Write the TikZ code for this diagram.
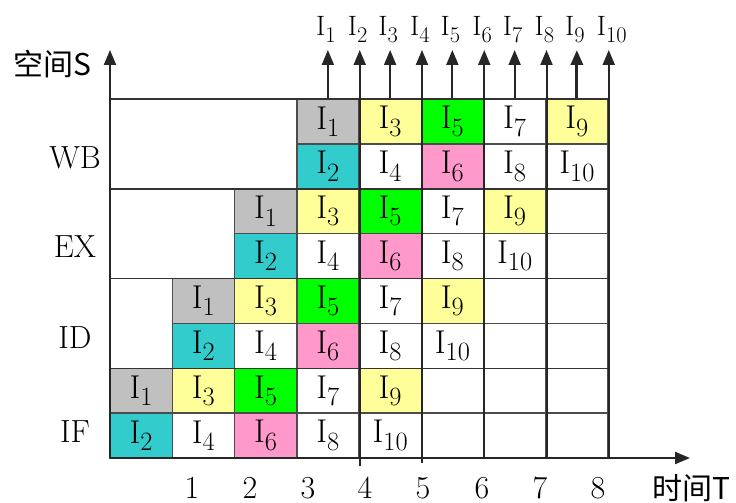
\documentclass[tikz,border=0pt]{standalone}
\usepackage{fontspec}
\newfontfamily\cjk{Noto Sans CJK SC}
\usetikzlibrary{arrows.meta, positioning}

\definecolor{insgray}{HTML}{C0C0C0}
\definecolor{inscyan}{HTML}{33CCCC}
\definecolor{insyellow}{HTML}{FFFF99}
\definecolor{insgreen}{HTML}{00FF00}
\definecolor{inspink}{HTML}{FF99CC}

% instruction label I with a large lowered index
\newcommand{\ins}[1]{I\raisebox{-.22em}{\scalebox{.8}{#1}}}
\def\cw{62.25}
\def\rh{44.875}

\begin{document}
\begin{tikzpicture}[x=1pt, y=-1pt,
        every node/.style={font=\fontsize{32}{32}\selectfont, inner sep=0pt},
        cell/.style={rectangle, draw=black!70, line width=1.5pt, fill=white, minimum width=\cw pt, minimum height=\rh pt, font=\fontsize{33}{33}\selectfont},
        gridline/.style={draw=black!80, line width=1.5pt},
        arrow/.style={-{Triangle[width=12pt,length=15pt]}, line width=2pt, black!85},
        toplabel/.style={font=\fontsize{28}{28}\selectfont, anchor=base west}
    ]
    \useasboundingbox (0,0) rectangle (736,503);
%
    % Pipeline cells
    \foreach \st [count=\b from 0] in {IF,ID,EX,WB} {
        \foreach \k/\col in {1/insgray,2/inscyan,3/insyellow,4/white,5/insgreen,6/inspink,7/white,8/white,9/insyellow,10/white} {
            \pgfmathsetmacro{\cx}{110+\cw*(\b+floor((\k-1)/2)+0.5)}
            \pgfmathsetmacro{\cy}{99+\rh*(2*(3-\b)+1-mod(\k,2)+0.5)}
            \node[cell, fill=\col] (\st-\k) at (\cx,\cy) {\ins{\k}};
        }
    }
    % Empty cells
    \foreach \b in {0,1,2} {
        \pgfmathtruncatemacro{\cs}{\b+5}
        \foreach \c in {\cs,...,7} {
            \foreach \r in {0,1} {
                \node[cell] (e-\b-\c-\r) at ({110+\cw*(\c+0.5)},{99+\rh*(2*(3-\b)+\r+0.5)}) {};
            }
        }
    }
%
    % Band lines
    \foreach \y in {0,2,4,6}
        \draw[gridline] (110,{99+\rh*\y}) -- (608,{99+\rh*\y});
%
    % Axes
    \coordinate (o) at (110,458);
    \coordinate (ytip) at (110,50);
    \coordinate (xtip) at (690,458);
    \draw[arrow] (o) -- (ytip);
    \draw[arrow] (o) -- (xtip);
    \node[font=\cjk\fontsize{30}{30}\selectfont] (s-label) at (52,64) {空间S};
    \node[font=\cjk\fontsize{30}{30}\selectfont] (t-label) at (691,488) {时间T};
%
    % Stage labels
    \node (if-label) at (75,432) {IF};
    \node (id-label) at (75,338) {ID};
    \node (ex-label) at (75,247) {EX};
    \node (wb-label) at (75,158) {WB};
%
    % Time steps
    \foreach \n/\x in {1/192,2/250,3/308,4/365,5/423,6/482,7/540,8/598}
        \node (step-\n) at (\x,488) {\n};
%
    % Finished instructions
    \foreach \k/\w in {1/2,3/2,5/2,7/2,9/3.2} {
        \coordinate (tip-\k) at (WB-\k.north |- ytip);
        \draw[arrow, line width=\w pt] (WB-\k.north) -- (tip-\k);
    }
    \foreach \k/\d in {2/8,4/5,6/0,8/0,10/0} {
        \coordinate (tip-\k) at (WB-\k.north east |- ytip);
        \draw[arrow] ([yshift=-\d pt]WB-\k.north east |- o) -- (tip-\k);
    }
    \foreach \k in {1,...,10}
        \node[toplabel] (out-\k) at ([xshift=-12pt]tip-\k |- 0,36) {\ins{\k}};
%
\end{tikzpicture}
\end{document}
